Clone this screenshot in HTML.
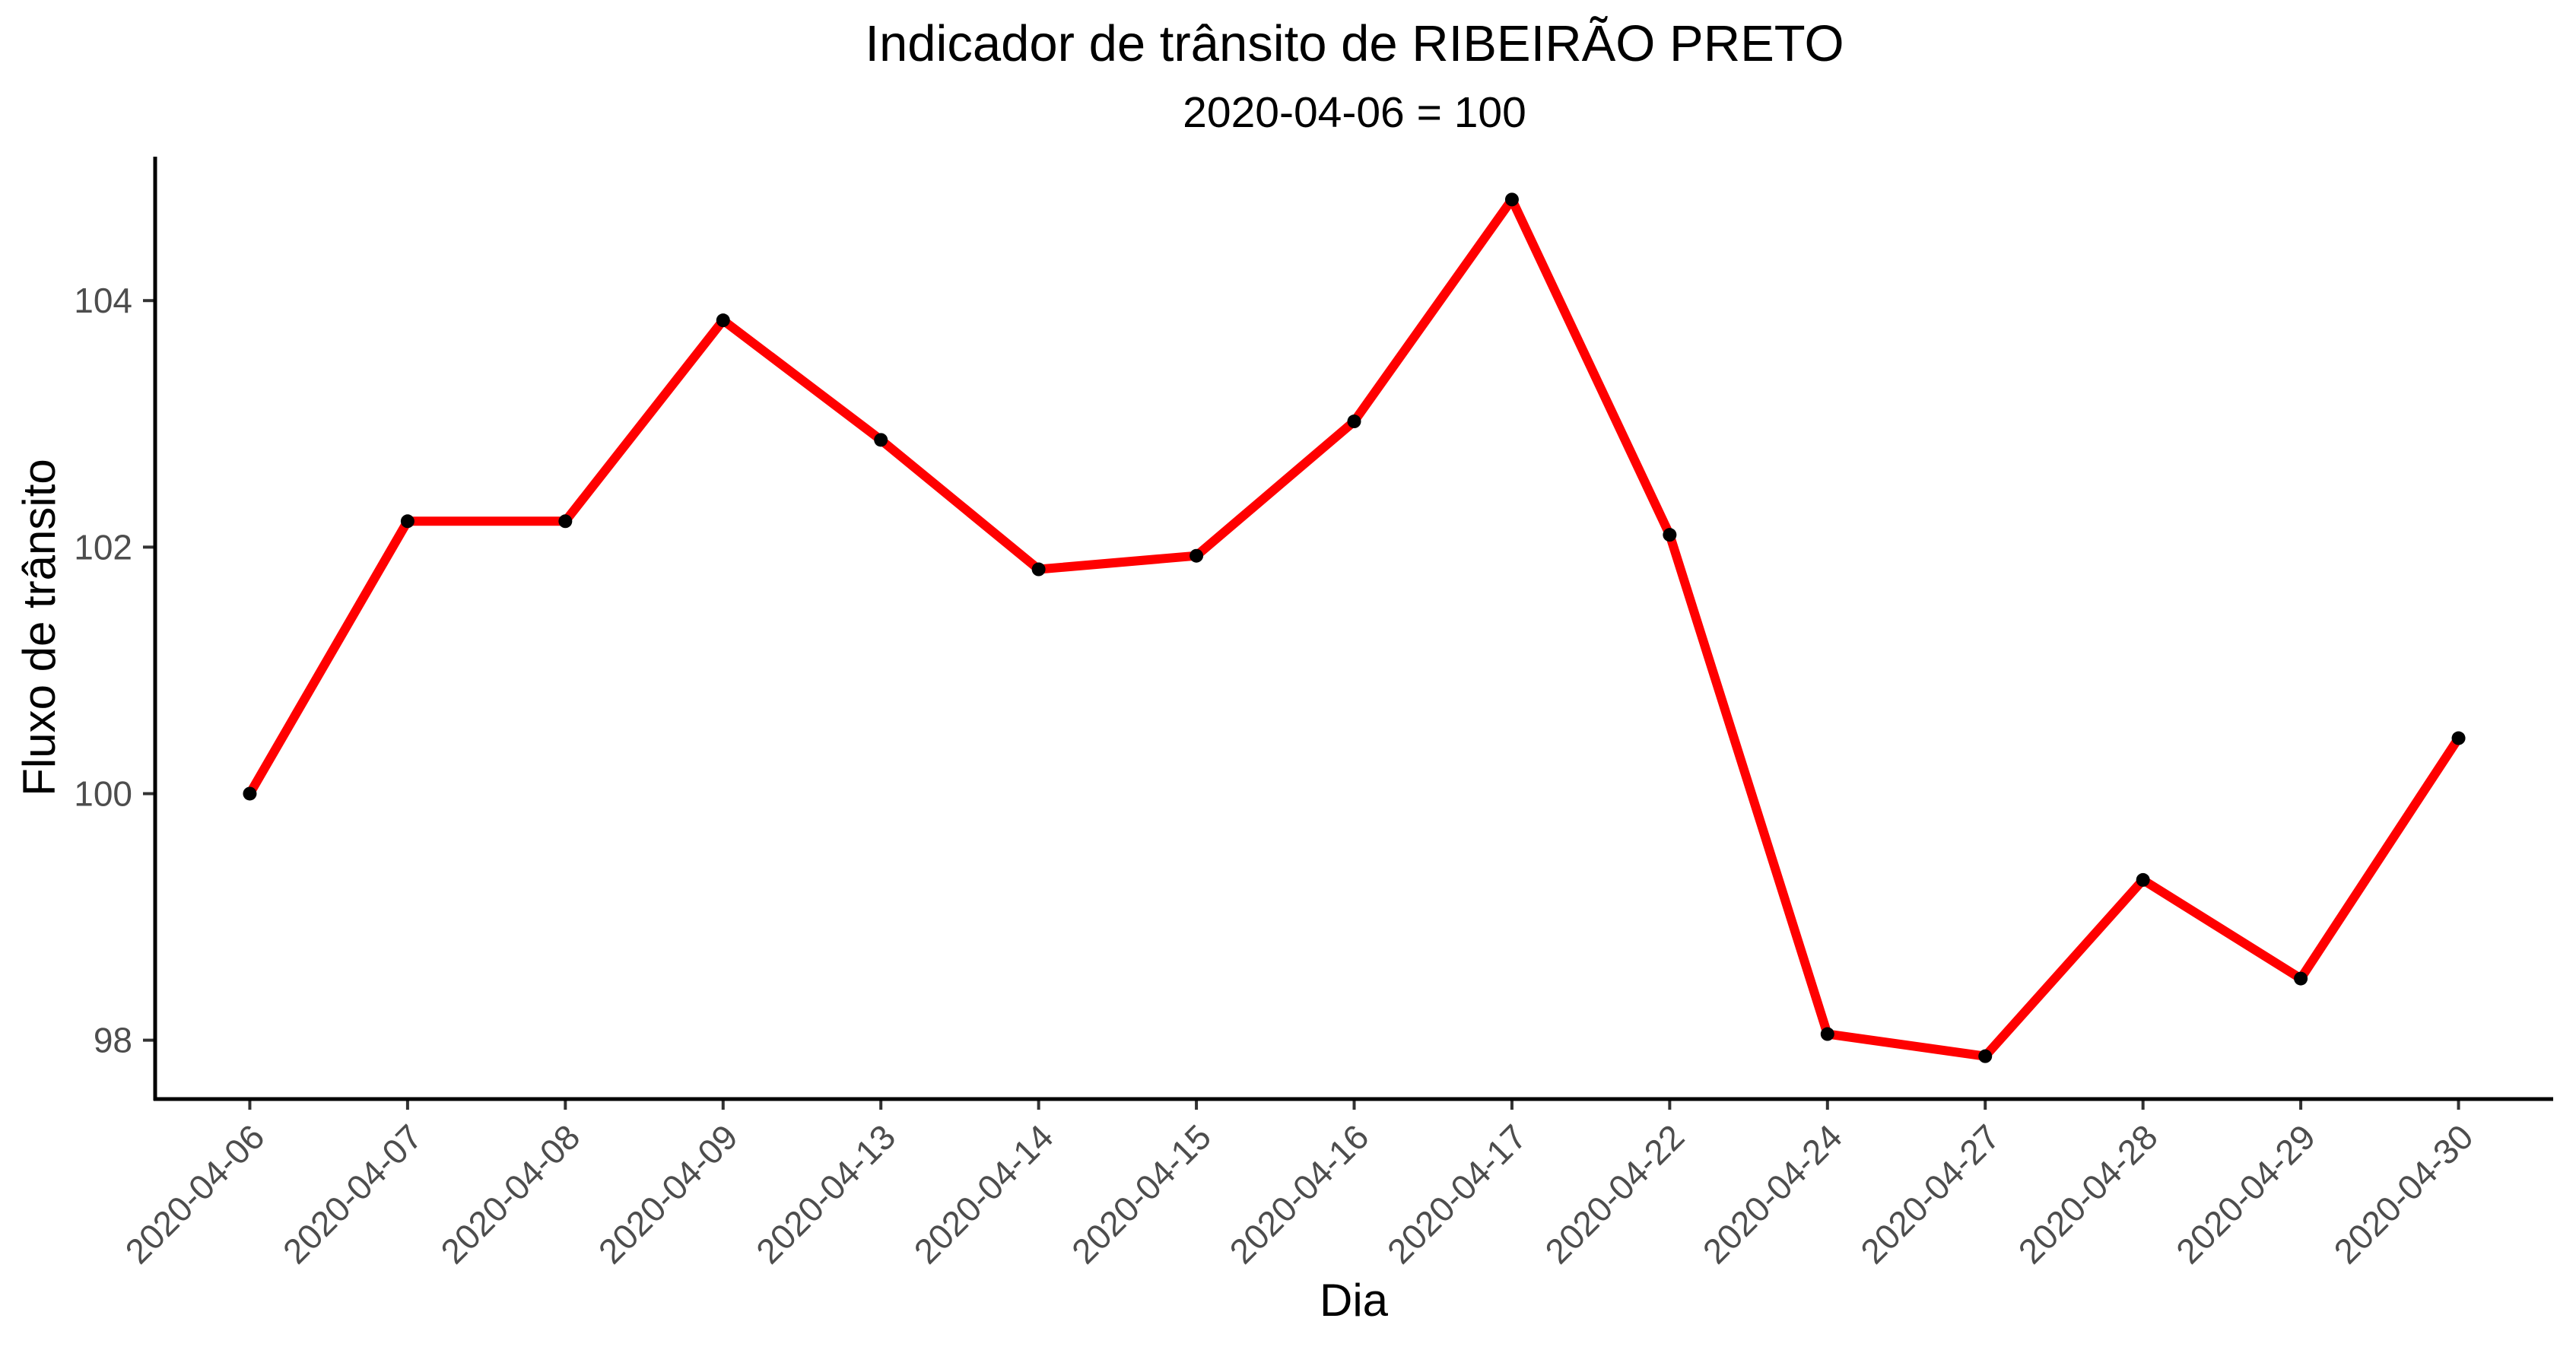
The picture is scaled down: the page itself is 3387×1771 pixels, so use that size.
<!DOCTYPE html>
<html><head><meta charset="utf-8"><style>html,body{margin:0;padding:0;background:#fff}svg{display:block}</style></head>
<body>
<svg id="chart" width="3387" height="1771" viewBox="0 0 3387 1771" xmlns="http://www.w3.org/2000/svg" font-family="Liberation Sans, Arial, sans-serif">
<rect width="3387" height="1771" fill="#fff"/>
<text x="1781" y="80" font-size="67" text-anchor="middle" fill="#000">Indicador de trânsito de RIBEIRÃO PRETO</text>
<text x="1781" y="167" font-size="57" text-anchor="middle" fill="#000">2020-04-06 = 100</text>
<text transform="translate(72,825) rotate(-90)" font-size="60" text-anchor="middle" fill="#000">Fluxo de trânsito</text>
<text x="1780" y="1730" font-size="60" text-anchor="middle" fill="#000">Dia</text>
<g id="ticks"></g>
<g id="series"></g>
<line x1="204" y1="206" x2="204" y2="1447" stroke="#000" stroke-width="5"/>
<line x1="202" y1="1445" x2="3357" y2="1445" stroke="#000" stroke-width="5"/>
</svg>
<script>
const categories = ["2020-04-06","2020-04-07","2020-04-08","2020-04-09","2020-04-13","2020-04-14","2020-04-15","2020-04-16","2020-04-17","2020-04-22","2020-04-24","2020-04-27","2020-04-28","2020-04-29","2020-04-30"];
const values = [100, 102.21, 102.21, 103.84, 102.87, 101.82, 101.93, 103.02, 104.82, 102.1, 98.05, 97.87, 99.3, 98.5, 100.45];
const yTicks = [98, 100, 102, 104];
const yTickLabels = ["98", "100", "102", "104"];

const NS = "http://www.w3.org/2000/svg";
const plotL = 204, plotR = 3357, plotT = 206, plotB = 1445;
const n = categories.length;
const step = (plotR - plotL) / (n - 1 + 1.2);
function xPos(i) { return plotL + step * (0.6 + i); }
const vmin = Math.min(...values), vmax = Math.max(...values);
const pad = (vmax - vmin) * 0.05;
const d0 = vmin - pad, d1 = vmax + pad;
function yPos(v) { return plotB - (v - d0) / (d1 - d0) * (plotB - plotT); }
function mk(tag, attrs) { const e = document.createElementNS(NS, tag); for (const k in attrs) e.setAttribute(k, attrs[k]); return e; }

const tg = document.getElementById('ticks');
yTicks.forEach((t, i) => {
  const y = yPos(t);
  const l = mk('line', {x1: 188, x2: 204, y1: y, y2: y, stroke: '#333', 'stroke-width': 4});
  
  
  tg.appendChild(l);
  const tx = mk('text', {x: 174, y: y + 16, 'font-size': 46, 'text-anchor': 'end', fill: '#4d4d4d'});
  tx.textContent = yTickLabels[i];
  
  
  tg.appendChild(tx);
});
categories.forEach((c, i) => {
  const x = xPos(i);
  const l = mk('line', {x1: x, x2: x, y1: 1445, y2: 1459, stroke: '#333', 'stroke-width': 4});
  
  
  tg.appendChild(l);
  const tx = mk('text', {transform: `translate(${x + 22},${1498}) rotate(-45)`, 'font-size': 46, 'text-anchor': 'end', fill: '#4d4d4d'});
  tx.textContent = c;
  
  
  tg.appendChild(tx);
});

const sg = document.getElementById('series');
const pts = values.map((v, i) => xPos(i) + ',' + yPos(v)).join(' ');
const line = mk('polyline', {points: pts, fill: 'none', stroke: '#ff0000', 'stroke-width': 12, 'stroke-linejoin': 'round'});


sg.appendChild(line);
values.forEach((v, i) => {
  const p = mk('circle', {cx: xPos(i), cy: yPos(v), r: 9, fill: '#000'});
  
  
  sg.appendChild(p);
});
</script>
</body></html>
